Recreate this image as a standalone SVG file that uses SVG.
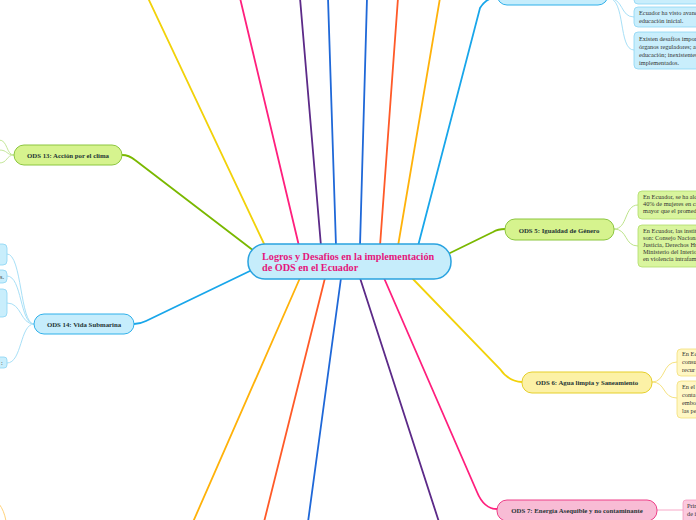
<svg xmlns="http://www.w3.org/2000/svg" width="696" height="520" viewBox="0 0 696 520">
<style>
.main{fill:none;stroke-width:1.8;stroke-linecap:round}
.sub{fill:none;stroke-width:1}
.lbl{font-family:"Liberation Serif",serif;font-weight:bold;font-size:6.8px;fill:#1f3535;text-anchor:middle}
.txt{font-family:"Liberation Serif",serif;font-size:6.3px;fill:#333}
.bl{fill:#c6edfc;stroke:#2fb0ea;stroke-width:1}
.gr{fill:#d6f38e;stroke:#8cc63f;stroke-width:1}
.ye{fill:#fcf1a6;stroke:#e6cf2a;stroke-width:1}
.pk{fill:#f8bcd5;stroke:#ee3f88;stroke-width:1}
.cbl{fill:#c9eefc;stroke:#8bd4f4;stroke-width:0.8}
.cgr{fill:#d9f59e;stroke:#b0dc6a;stroke-width:0.8}
.cye{fill:#fff7c4;stroke:#f2de78;stroke-width:0.8}
.cpk{fill:#fbc9de;stroke:#f59abf;stroke-width:0.8}
</style>
<rect width="696" height="520" fill="#ffffff"/>
<g id="connectors">
<path class="main" stroke="#f2d20a" d="M148,-2 L266,248"/>
<path class="main" stroke="#ff1f7d" d="M240,-2 L299,246"/>
<path class="main" stroke="#5c2a88" d="M300,-2 L321,246"/>
<path class="main" stroke="#1f68d8" d="M328,-2 L336,246"/>
<path class="main" stroke="#1f68d8" d="M367,-2 L360,246"/>
<path class="main" stroke="#ff5a28" d="M398,-2 L380,246"/>
<path class="main" stroke="#ffb20a" d="M440,-2 L398,246"/>
<path class="main" stroke="#18a6ea" d="M418,246 L480,8 Q486,-2 497,-3"/>
<path class="main" stroke="#ffb20a" d="M300,278 L193,522"/>
<path class="main" stroke="#ff5a28" d="M325,278 L264,522"/>
<path class="main" stroke="#1f68d8" d="M341,278 L308,522"/>
<path class="main" stroke="#5c2a88" d="M360,278 L439,522"/>
<path class="main" stroke="#ff1f7d" d="M384,278 L477,492 Q484,509 497,509"/>
<path class="main" stroke="#7ab800" d="M448,254 L493,232 Q498,229 505,229"/>
<path class="main" stroke="#f2d20a" d="M412,278 L500,369 Q508,381 522,382"/>
<path class="main" stroke="#7ab800" d="M254,251 L135,160 Q129,155 122,155"/>
<path class="main" stroke="#18a6ea" d="M252,270 L146,321 Q140,324 134,324"/>
<path class="sub" stroke="#a8e0f7" d="M608,-2 C622,-2 622,-3 634,-3"/>
<path class="sub" stroke="#a8e0f7" d="M608,-2 C624,-2 620,17 634,17"/>
<path class="sub" stroke="#a8e0f7" d="M608,-2 C626,-2 618,50 634,50"/>
<path class="sub" stroke="#bde48a" d="M614,229 C628,229 624,205 638,205"/>
<path class="sub" stroke="#bde48a" d="M614,229 C628,229 624,246 638,246"/>
<path class="sub" stroke="#f5e27f" d="M652,382 C666,382 662,362 677,362"/>
<path class="sub" stroke="#f5e27f" d="M652,382 C666,382 662,398 677,398"/>
<path class="sub" stroke="#f8a8c8" d="M657,510 L683,510"/>
<path class="sub" stroke="#a8e0f7" d="M34,324 C20,324 22,254 7,254"/>
<path class="sub" stroke="#a8e0f7" d="M34,324 C20,324 22,276 7,276"/>
<path class="sub" stroke="#a8e0f7" d="M34,324 C20,324 22,303 7,303"/>
<path class="sub" stroke="#a8e0f7" d="M34,324 C20,324 22,363 7,363"/>
<path class="sub" stroke="#c4e79a" d="M14,155 C6,155 8,140 -1,140"/>
<path class="sub" stroke="#c4e79a" d="M14,155 C6,155 8,150 -1,150"/>
<path class="sub" stroke="#c4e79a" d="M14,155 C6,155 8,163 -1,163"/>
<path class="sub" stroke="#ffd27a" d="M-1,504 Q4,510 6,521"/>
</g>
<g id="center">
<rect x="248" y="244" width="203" height="35" rx="17" fill="#c6edfb" stroke="#2aa3e0" stroke-width="1.5"/>
<text x="262" y="260" font-family="Liberation Serif,serif" font-weight="bold" font-size="10.2" fill="#e4177c">Logros y Desafios en la implementación</text>
<text x="262" y="271" font-family="Liberation Serif,serif" font-weight="bold" font-size="10.2" fill="#e4177c">de ODS en el Ecuador</text>
</g>
<g id="ods4">
<rect class="bl" x="497" y="-16" width="111" height="21" rx="10"/>
</g>
<g id="ods4-c1"><rect class="cbl" x="634" y="-10" width="70" height="14" rx="4"/></g>
<g id="ods4-c2"><rect class="cbl" x="634" y="7" width="70" height="20" rx="4"/>
<text class="txt" x="639" y="15">Ecuador ha visto avanc</text>
<text class="txt" x="639" y="22.5">educación inicial.</text></g>
<g id="ods4-c3"><rect class="cbl" x="634" y="32" width="70" height="37" rx="4"/>
<text class="txt" x="639" y="41">Existen desafíos import</text>
<text class="txt" x="639" y="49">órganos reguladores; au</text>
<text class="txt" x="639" y="57">educación; inexistentes</text>
<text class="txt" x="639" y="65">implementados.</text></g>
<g id="ods5">
<rect class="gr" x="505" y="219" width="109" height="21" rx="10"/>
<text class="lbl" x="559" y="232.5">ODS 5: Igualdad de Género</text>
</g>
<g id="ods5-c1"><rect class="cgr" x="638" y="191" width="66" height="28" rx="4"/>
<text class="txt" x="643" y="199">En Ecuador, se ha alca</text>
<text class="txt" x="643" y="205.8">40% de mujeres en ca</text>
<text class="txt" x="643" y="212.6">mayor que el promedio</text></g>
<g id="ods5-c2"><rect class="cgr" x="638" y="225" width="66" height="42" rx="4"/>
<text class="txt" x="643" y="232.5">En Ecuador, las institu</text>
<text class="txt" x="643" y="239.5">son: Consejo Nacional</text>
<text class="txt" x="643" y="246.5">Justicia, Derechos Hu</text>
<text class="txt" x="643" y="253.5">Ministerio del Interior</text>
<text class="txt" x="643" y="260.5">en violencia intrafamil</text></g>
<g id="ods6">
<rect class="ye" x="522" y="372" width="130" height="21" rx="10"/>
<text class="lbl" x="587" y="385">ODS 6: Agua limpia y Saneamiento</text>
</g>
<g id="ods6-c1"><rect class="cye" x="677" y="349" width="30" height="27" rx="4"/>
<text class="txt" x="682" y="356">En Ec</text>
<text class="txt" x="682" y="364">consu</text>
<text class="txt" x="682" y="372">recur</text></g>
<g id="ods6-c2"><rect class="cye" x="677" y="381" width="30" height="37" rx="4"/>
<text class="txt" x="682" y="389">En el</text>
<text class="txt" x="682" y="397">conta</text>
<text class="txt" x="682" y="405">embo</text>
<text class="txt" x="682" y="413">las pe</text></g>
<g id="ods7">
<rect class="pk" x="497" y="500" width="160" height="21" rx="10"/>
<text class="lbl" x="577" y="513">ODS 7: Energía Asequible y no contaminante</text>
</g>
<g id="ods7-c1"><rect class="cpk" x="683" y="500" width="20" height="24" rx="3"/>
<text class="txt" x="687" y="508" fill="#7a4a60">Prin</text>
<text class="txt" x="687" y="516" fill="#7a4a60">de i</text></g>
<g id="ods13">
<rect class="gr" x="14" y="145" width="108" height="20" rx="10"/>
<text class="lbl" x="68" y="157.5">ODS 13: Acción por el clima</text>
</g>
<g id="ods14">
<rect class="bl" x="34" y="314" width="100" height="20" rx="10"/>
<text class="lbl" x="84" y="326.5">ODS 14: Vida Submarina</text>
</g>
<g id="ods14-c1"><rect class="cbl" x="-10" y="244" width="17" height="21" rx="4"/></g>
<g id="ods14-c2"><rect class="cbl" x="-10" y="270" width="17" height="13" rx="4"/>
<text class="txt" x="0" y="279">s.</text></g>
<g id="ods14-c3"><rect class="cbl" x="-10" y="289" width="17" height="28" rx="4"/></g>
<g id="ods14-c4"><rect class="cbl" x="-10" y="357" width="17" height="11" rx="3"/>
<text class="txt" x="1" y="364.5" fill="#c04a8a">:</text></g>
</svg>
